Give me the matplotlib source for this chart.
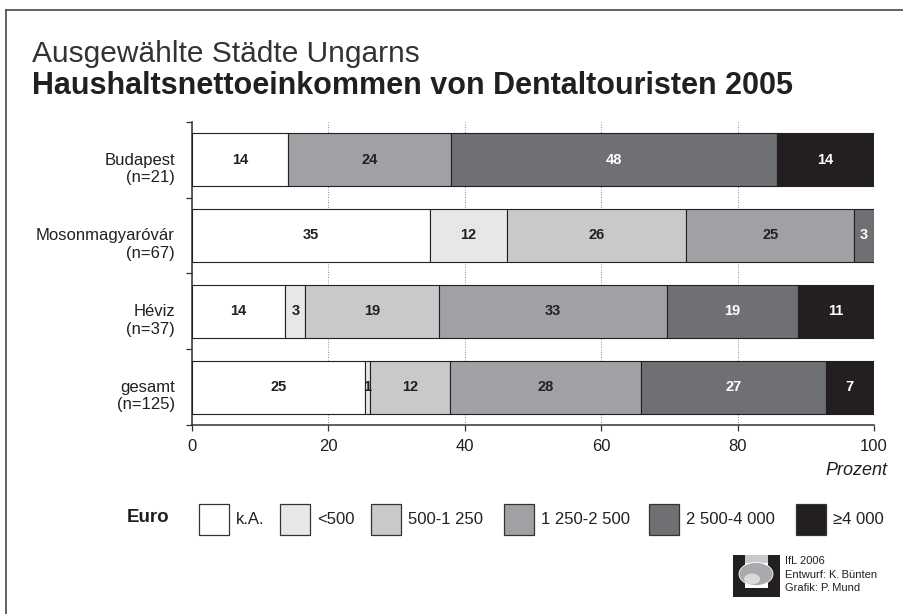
import matplotlib
matplotlib.use("Agg")
import matplotlib.pyplot as plt
from matplotlib.patches import Rectangle, Circle
from matplotlib.lines import Line2D
import matplotlib.transforms as mtransforms

# ---------------- data ----------------
cities = ["Budapest", "Mosonmagyaróvár", "Héviz", "gesamt"]
sample_sizes = ["(n=21)", "(n=67)", "(n=37)", "(n=125)"]
income_classes = ["k.A.", "<500", "500-1\u00a0250", "1\u00a0250-2\u00a0500",
                  "2\u00a0500-4\u00a0000", "≥4\u00a0000"]
# shares in percent (segment widths)
budapest = [14.1, 0.0, 0.0, 23.9, 47.8, 14.2]
mosonmagyarovar = [34.9, 11.3, 26.3, 24.6, 2.9, 0.0]
heviz = [13.7, 2.9, 19.6, 33.4, 19.2, 11.2]
gesamt = [25.4, 0.7, 11.7, 28.0, 27.1, 7.1]
# printed labels
budapest_lbl = [14, None, None, 24, 48, 14]
mosonmagyarovar_lbl = [35, 12, 26, 25, 3, None]
heviz_lbl = [14, 3, 19, 33, 19, 11]
gesamt_lbl = [25, 1, 12, 28, 27, 7]
x_ticks = [0, 20, 40, 60, 80, 100]

values = [budapest, mosonmagyarovar, heviz, gesamt]
labels = [budapest_lbl, mosonmagyarovar_lbl, heviz_lbl, gesamt_lbl]

# ---------------- style ----------------
colors = ["#ffffff", "#e6e7e8", "#c8c9cb", "#a0a1a4", "#6e7074", "#231f20"]
txt_colors = ["#231f20", "#231f20", "#231f20", "#231f20", "#ffffff", "#ffffff"]
EDGE = "#231f20"
TXT = "#231f20"
REG = dict(family=["Liberation Sans", "DejaVu Sans"], weight="normal")
BOLD = dict(family=["Liberation Sans", "DejaVu Sans"], weight="bold")

W, H = 904, 614
fig = plt.figure(figsize=(W / 100, H / 100), dpi=100)


def fx(x):
    return x / W


def fy(y):
    return 1 - y / H


# frame (left and top lines)
fig.add_artist(Line2D([fx(6.5), fx(6.5)], [0, fy(9.7)], color="#555555", lw=1.3,
                      transform=fig.transFigure))
fig.add_artist(Line2D([fx(6.5), 1], [fy(9.7), fy(9.7)], color="#555555", lw=1.3,
                      transform=fig.transFigure))

# titles
fig.text(fx(32), fy(62.5), "Ausgewählte Städte Ungarns", fontsize=21.5,
         color="#333333", va="baseline", ha="left", **REG)
fig.text(fx(32), fy(93.5), "Haushaltsnettoeinkommen von Dentaltouristen 2005",
         fontsize=22, color=TXT, va="baseline", ha="left", **BOLD)

# ---------------- axes ----------------
left, right, top, bottom = 192, 874, 121.7, 425
ax = fig.add_axes([fx(left), fy(bottom), fx(right - left), (bottom - top) / H])

for i, (vals, lbls) in enumerate(zip(values, labels)):
    start = 0.0
    for j, (v, l) in enumerate(zip(vals, lbls)):
        if v > 0:
            ax.barh(i, v, left=start, height=0.70, color=colors[j],
                    edgecolor=EDGE, linewidth=0.8, zorder=3)
            if l is not None:
                ax.text(start + v / 2, i, str(l), ha="center", va="center",
                        fontsize=10.5, color=txt_colors[j], zorder=4, **BOLD)
        start += v

ax.set_xlim(0, 100)
ax.set_ylim(3.5, -0.5)
ax.set_xticks(x_ticks)
ax.set_xticklabels([str(t) for t in x_ticks], fontsize=12, color=TXT, **REG)
ax.set_yticks([-0.5, 0.5, 1.5, 2.5, 3.5])
ax.set_yticklabels([])
ax.tick_params(axis="x", direction="out", length=4, width=0.9, color="#333333", pad=6)
ax.tick_params(axis="y", direction="out", length=4, width=0.9, color="#333333")
for s in ["top", "right"]:
    ax.spines[s].set_visible(False)
for s in ["left", "bottom"]:
    ax.spines[s].set_color("#333333")
    ax.spines[s].set_linewidth(1.1)
ax.xaxis.grid(True, linestyle=(0, (1, 2)), color="#666666", linewidth=0.6, zorder=0)
ax.set_axisbelow(True)

trans = mtransforms.blended_transform_factory(ax.transAxes, ax.transData)
for i, (c, n) in enumerate(zip(cities, sample_sizes)):
    ax.text(-0.025, i + 0.12, c + "\n" + n, transform=trans, ha="right",
            va="center", fontsize=12, linespacing=1.2, color=TXT, **REG)

ax.text(1.02, -0.15, "Prozent", transform=ax.transAxes, ha="right", va="center",
        fontsize=13, style="italic", color=TXT, **REG)

# ---------------- legend ----------------
fig.text(fx(127), fy(517), "Euro", fontsize=13.5, ha="left", va="center",
         color=TXT, **BOLD)
box_x = [199, 280, 371, 504, 649, 796]
for bx, col, lab in zip(box_x, colors, income_classes):
    fig.add_artist(Rectangle((fx(bx), fy(535)), 30 / W, 31 / H,
                             facecolor=col, edgecolor="#333333", lw=0.9,
                             transform=fig.transFigure))
    fig.text(fx(bx + 37), fy(520), lab, fontsize=12, ha="left", va="center",
             color=TXT, **REG)

# ---------------- logo & credits ----------------
for rx, ry, rw, rh in [(733, 597, 12, 42), (768, 597, 12, 42), (745, 597, 23, 9)]:
    fig.add_artist(Rectangle((fx(rx), fy(ry)), rw / W, rh / H, facecolor="#231f20",
                             edgecolor="none", transform=fig.transFigure))
fig.add_artist(Rectangle((fx(745), fy(563)), 23 / W, 8 / H, facecolor="#c8c9cb",
                         edgecolor="none", transform=fig.transFigure))
fig.add_artist(Circle((fx(756), fy(574)), 17 / W, facecolor="#a9aaad",
                      edgecolor="white", lw=0.6, transform=fig.transFigure))
fig.add_artist(Circle((fx(752), fy(579)), 8 / W, facecolor="#d9dadb",
                      edgecolor="none", transform=fig.transFigure))
for k, line in enumerate(["IfL 2006", "Entwurf: K.\u2009Bünten", "Grafik: P.\u2009Mund"]):
    fig.text(fx(785), fy(561 + k * 13.5), line, fontsize=8, ha="left",
             va="center", color=TXT, **REG)

fig.savefig("out.png", dpi=100)
